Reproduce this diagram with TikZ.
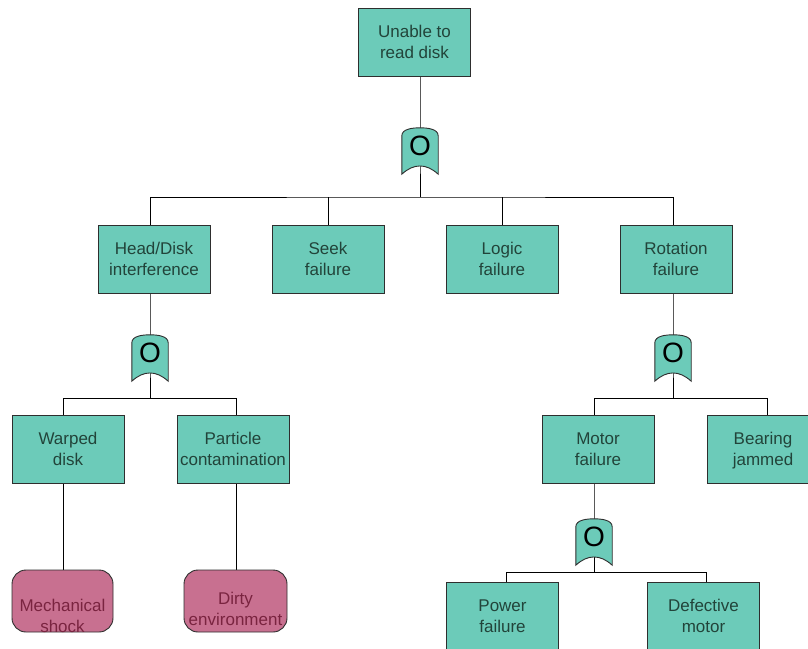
\documentclass[tikz,border=0pt]{standalone}
\usepackage{fontspec}
\setmainfont{Liberation Sans}
\usetikzlibrary{backgrounds,calc}
\definecolor{evfill}{HTML}{6CCBB9}
\definecolor{evtext}{HTML}{22443A}
\definecolor{bsfill}{HTML}{C87090}
\definecolor{bstext}{HTML}{7A2440}
\definecolor{edge}{HTML}{2E2E2E}
% two centred lines with fixed line box, set slightly low in the box
\newcommand{\twolines}[2]{\rule{0pt}{16.7pt}#1\\#2\rule[-4.3pt]{0pt}{4.3pt}}
\tikzset{
  event/.style={rectangle, draw=edge, line width=0.9pt, fill=evfill,
    minimum width=112pt, minimum height=68pt, inner sep=0pt,
    text=evtext, align=center, font=\fontsize{17}{21}\selectfont},
  basic/.style={rectangle, rounded corners=14pt, draw=edge, line width=0.9pt,
    fill=bsfill, minimum height=62pt, inner sep=0pt},
  basictext/.style={text=bstext, align=center, font=\fontsize{17}{21}\selectfont, inner sep=0pt},
  orgate/.style={rectangle, minimum width=36pt, minimum height=46pt, inner sep=0pt},
  gatemark/.style={font=\fontsize{28}{28}\selectfont, inner sep=0pt},
  gateshape/.style={draw=edge, line width=0.9pt, fill=evfill},
  wire/.style={draw=black, line width=1pt}
}
\begin{document}
\begin{tikzpicture}[x=1pt,y=-1pt]
\useasboundingbox (0,0) rectangle (808,648);
\clip (0,0) rectangle (808,648);

% events
\node[event] (top) at (414.5,42) {\twolines{Unable to}{read disk}};
\node[event] (hd) at (154,259) {\twolines{Head/Disk}{interference}};
\node[event] (seek) at (328,259) {\twolines{Seek}{failure}};
\node[event] (logic) at (502,259) {\twolines{Logic}{failure}};
\node[event] (rot) at (676,259) {\twolines{Rotation}{failure}};
\node[event] (warp) at (68,449) {\twolines{Warped}{disk}};
\node[event] (part) at (233,449) {\twolines{Particle}{contamination}};
\node[event] (motor) at (598,449) {\twolines{Motor}{failure}};
\node[event] (bear) at (763,449) {\twolines{Bearing}{jammed}};
\node[event] (power) at (502.5,616) {\twolines{Power}{failure}};
\node[event] (defect) at (703.5,616) {\twolines{Defective}{motor}};

% basic events
\node[basic, minimum width=101pt] (mech) at (62.5,601) {};
\node[basictext] (mechtxt) at (62.5,616) {\twolines{Mechanical}{shock}};
\node[basic, minimum width=103pt] (dirty) at (235.5,601) {};
\node[basictext] (dirtytxt) at (235.5,609) {\twolines{Dirty}{environment}};

% OR gates
\node[orgate] (g1) at (420,151) {};
\node[orgate] (g2) at (150,358) {};
\node[orgate] (g3) at (673,358) {};
\node[orgate] (g4) at (594,542) {};

% bar junctions
\coordinate (b1) at (420,197);
\coordinate (b2l) at (63,398);
\coordinate (b2r) at (236,398);
\coordinate (b3l) at (594,398);
\coordinate (b3r) at (767,398);
\coordinate (b4l) at (506,572);
\coordinate (b4r) at (706,572);

\begin{scope}[on background layer]
  % top level
  \draw[wire] (top.south -| g1) -- (g1.center) -- (b1);
  \draw[wire] (g2 |- hd.north) |- (b1) -| (g3 |- rot.north);
  \draw[wire] (seek.north) -- (seek.north |- b1);
  \draw[wire] (logic.north) -- (logic.north |- b1);
  % head/disk branch
  \draw[wire] (g2 |- hd.south) -- (g2.center) -- (g2 |- b2l);
  \draw[wire] (b2l |- warp.north) -- (b2l) -- (b2r) -- (b2r |- part.north);
  \draw[wire] (b2l |- warp.south) -- (b2l |- mech.north);
  \draw[wire] (b2r |- part.south) -- (b2r |- dirty.north);
  % rotation branch
  \draw[wire] (g3 |- rot.south) -- (g3.center) -- (g3 |- b3l);
  \draw[wire] (b3l |- motor.north) -- (b3l) -- (b3r) -- (b3r |- bear.north);
  \draw[wire] (g4 |- motor.south) -- (g4.center) -- (g4 |- b4l);
  \draw[wire] (b4l |- power.north) -- (b4l) -- (b4r) -- (b4r |- defect.north);
  % gate outlines
  \foreach \g in {g1,g2,g3,g4}{
    \draw[gateshape] ($(\g.north west)+(0,8)$) -- (\g.south west)
      .. controls +(12,-11) and +(-12,-11) .. (\g.south east)
      -- ($(\g.north east)+(0,8)$)
      .. controls +(0,-7) and +(7,0) .. (\g.north)
      .. controls +(-7,0) and +(0,-7) .. ($(\g.north west)+(0,8)$) -- cycle;
  }
\end{scope}

% gate symbols
\foreach \g in {g1,g2,g3,g4}{
  \node[gatemark] (\g o) at ($(\g.center)+(0,-5)$) {O};
}
\end{tikzpicture}
\end{document}
